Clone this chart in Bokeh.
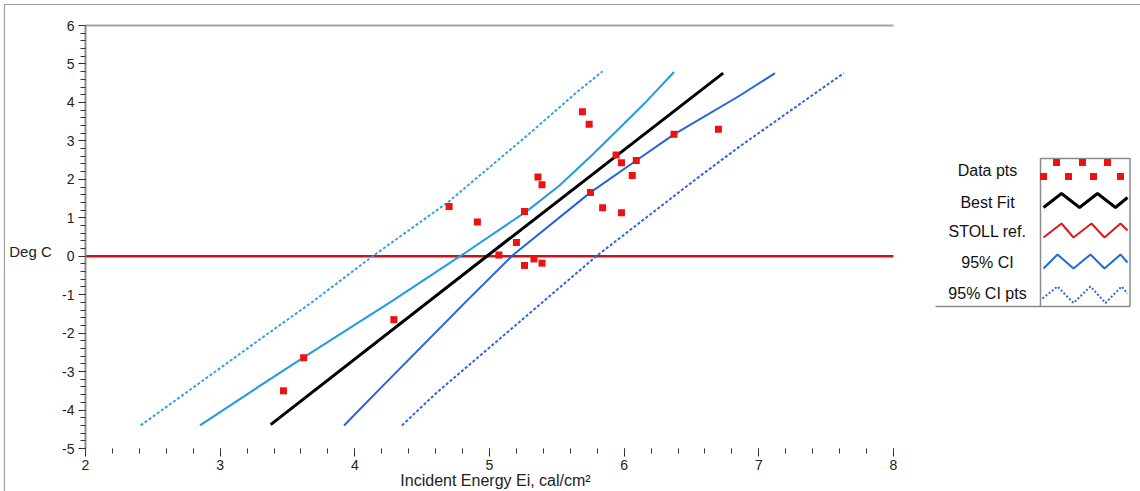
from bokeh.plotting import figure
from bokeh.models import Range1d, SingleIntervalTicker
from bokeh.embed import file_html
from bokeh.resources import INLINE
from bokeh.core.properties import value

FONT = "Liberation Sans"

# ---------------- data ----------------
ei_pts = [3.47, 3.62, 4.29, 4.70, 4.91, 5.07, 5.20, 5.26, 5.26, 5.33, 5.36, 5.39,
          5.39, 5.69, 5.74, 5.75, 5.84, 5.94, 5.98, 5.98, 6.06, 6.09, 6.37, 6.70]
degc_pts = [-3.50, -2.64, -1.65, 1.29, 0.89, 0.03, 0.36, 1.16, -0.24, -0.07, 2.06, 1.86,
            -0.18, 3.76, 3.43, 1.66, 1.26, 2.63, 2.43, 1.13, 2.10, 2.49, 3.17, 3.30]

fit_x = [3.375, 4.98, 6.735]
fit_y = [-4.38, 0.0, 4.76]

ci_hi_x = [2.85, 3.30, 3.62, 4.27, 4.79, 5.28, 5.52, 5.77, 6.00, 6.15, 6.37]
ci_hi_y = [-4.40, -3.36, -2.63, -1.18, 0.02, 1.18, 1.84, 2.66, 3.45, 3.97, 4.79]

ci_lo_x = [3.92, 4.16, 4.82, 5.17, 5.75, 6.09, 6.37, 6.86, 7.12]
ci_lo_y = [-4.40, -3.54, -1.20, 0.02, 1.66, 2.49, 3.17, 4.18, 4.76]

pi_hi_x = [2.41, 3.30, 3.68, 4.14, 4.69, 5.28, 5.65, 5.84]
pi_hi_y = [-4.40, -2.15, -1.20, 0.02, 1.40, 3.14, 4.27, 4.81]

pi_lo_x = [4.35, 4.61, 5.80, 6.52, 6.86, 7.63]
pi_lo_y = [-4.40, -3.54, 0.02, 1.97, 2.86, 4.76]

stoll_x = [2.0, 8.0]
stoll_y = [0.0, 0.0]

x_min, x_max = 2, 8
y_min, y_max = -5, 6
x_title = "Incident Energy Ei, cal/cm²"
y_title = "Deg C"
legend_labels = ["Data pts", "Best Fit", "STOLL ref.", "95% CI", "95% CI pts"]

# ---------------- layout (pixels) ----------------
W, H = 1140, 491
FL, FR, FT, FB = 85, 893, 25, 448          # plot area edges
kx = (FR - FL) / (x_max - x_min)
ky = (FB - FT) / (y_max - y_min)
x_range = Range1d(x_min - FL / kx, x_max + (W - FR) / kx)
y_range = Range1d(y_min - (H - FB) / ky, y_max + FT / ky)

p = figure(width=W, height=H, output_backend="svg", toolbar_location=None,
           x_range=x_range, y_range=y_range,
           min_border=0, min_border_left=0, min_border_right=0,
           min_border_top=0, min_border_bottom=0)
p.extra_x_ranges = {"px": Range1d(0, W)}
p.extra_y_ranges = {"py": Range1d(H, 0)}
p.grid.visible = False
p.outline_line_color = None
p.background_fill_color = "white"
p.border_fill_color = "white"

xa = p.xaxis[0]
xa.fixed_location = y_min
xa.bounds = (x_min, x_max)
xa.ticker = SingleIntervalTicker(interval=1, num_minor_ticks=5)
xa.axis_line_color = None
xa.major_tick_out = 8
xa.major_tick_in = 0
xa.minor_tick_out = 5
xa.minor_tick_in = 0
xa.major_tick_line_color = "#222222"
xa.minor_tick_line_color = "#333333"
xa.major_label_standoff = 3
xa.major_label_text_font = FONT
xa.major_label_text_font_size = "14px"
xa.major_label_text_color = "#222222"

ya = p.yaxis[0]
ya.fixed_location = x_min
ya.bounds = (y_min, y_max)
ya.ticker = SingleIntervalTicker(interval=1, num_minor_ticks=5)
ya.axis_line_color = "#8c8c8c"
ya.axis_line_width = 2
ya.major_tick_out = 7
ya.major_tick_in = 0
ya.minor_tick_out = 5
ya.minor_tick_in = 0
ya.major_tick_line_color = "#222222"
ya.minor_tick_line_color = "#333333"
ya.major_label_standoff = 4
ya.major_label_text_font = FONT
ya.major_label_text_font_size = "14px"
ya.major_label_text_color = "#222222"
ya.major_label_overrides = {v: str(v) for v in range(y_min, 0)}

# outer border (top and left) and top frame line
p.line([4, 4, W], [H, 4, 4], x_range_name="px", y_range_name="py",
       line_color="#a0a0a0", line_width=1.2)
p.line([x_min, x_max], [y_max, y_max], line_color="#a6a6a6", line_width=2)

# series
p.line(stoll_x, stoll_y, line_color="#c4161c", line_width=2.5)
p.line(pi_hi_x, pi_hi_y, line_color="#3aa0e0", line_width=2, line_dash="3 2")
p.line(pi_lo_x, pi_lo_y, line_color="#2f66dc", line_width=2, line_dash="3 2")
p.line(ci_hi_x, ci_hi_y, line_color="#1e9de3", line_width=2)
p.line(ci_lo_x, ci_lo_y, line_color="#2163e2", line_width=2)
p.line(fit_x, fit_y, line_color="black", line_width=3)
p.scatter(ei_pts, degc_pts, marker="square", size=7, fill_color="#ee1111",
          line_color="#ee1111", line_width=0)

# axis titles
p.text(x=[30], y=[251], text=[y_title], x_range_name="px", y_range_name="py",
       text_align="center", text_baseline="middle", text_font=value(FONT),
       text_font_size="15px", text_color="#222222")
p.text(x=[495], y=[480], text=[x_title], x_range_name="px", y_range_name="py",
       text_align="center", text_baseline="middle", text_font=value(FONT),
       text_font_size="16px", text_color="#222222")

# ---------------- legend (pixel coordinates) ----------------
kw = dict(x_range_name="px", y_range_name="py")
box_c = "#8a8a8a"
p.line([935, 1129.5], [306, 306], line_color=box_c, line_width=1.5, **kw)
p.line([1040, 1040, 1129.5, 1129.5], [306, 158, 158, 306], line_color=box_c, line_width=1.5, **kw)

p.text(x=[987] * 5, y=[170, 201.5, 231, 261.5, 293], text=legend_labels,
       text_align="center", text_baseline="middle", text_font=value(FONT),
       text_font_size="16px", text_color="#111111", **kw)

p.scatter([1043, 1056, 1068, 1082, 1093, 1107, 1120], [176, 162, 176, 162, 176, 162, 176],
          marker="square", size=7, fill_color="#ee1111", line_color="#ee1111",
          line_width=0, **kw)
p.line([1043, 1061, 1079, 1097, 1115, 1127], [207, 193, 207, 193, 207, 197],
       line_color="black", line_width=3, **kw)
p.line([1043, 1061, 1073, 1091, 1104, 1120, 1127], [237, 223, 237, 223, 237, 223, 230],
       line_color="#e01a1a", line_width=2, **kw)
p.line([1043, 1057, 1073, 1090, 1104, 1120, 1127], [268, 254, 268, 254, 268, 254, 262],
       line_color="#1f6ae0", line_width=2, **kw)
p.line([1042, 1057, 1073, 1090, 1105, 1121, 1127], [298, 286, 302.5, 286, 302.5, 286, 293],
       line_color="#2f66dc", line_width=2, line_dash="2 2", **kw)

open("out.html", "w").write(file_html(p, INLINE))
